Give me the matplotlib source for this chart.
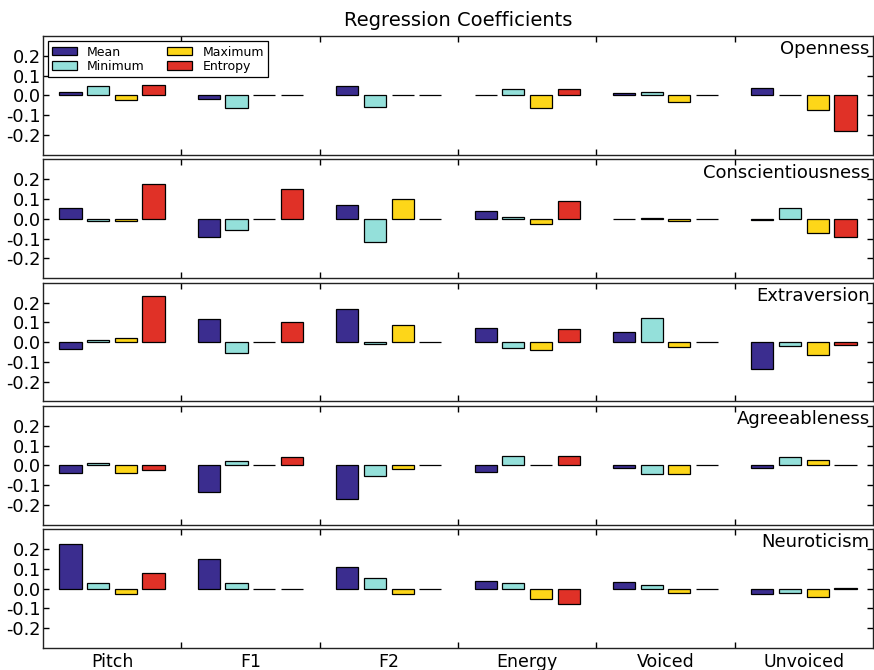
import numpy as np
import matplotlib
matplotlib.use("Agg")
import matplotlib.pyplot as plt

plt.rcParams['axes.unicode_minus'] = False

features = ['Pitch', 'F1', 'F2', 'Energy', 'Voiced', 'Unvoiced']
traits = ['Openness', 'Conscientiousness', 'Extraversion', 'Agreeableness', 'Neuroticism']
stats = ['Mean', 'Minimum', 'Maximum', 'Entropy']
colors = ['#3b2d8f', '#94e0da', '#fdd619', '#e03127']

# coefficient per trait, rows = stat (Mean, Minimum, Maximum, Entropy), cols = feature
openness = [
    [0.015, -0.02, 0.05, 0.003, 0.01, 0.04],
    [0.048, -0.062, -0.06, 0.035, 0.015, 0.003],
    [-0.022, 0.0, 0.003, -0.064, -0.035, -0.075],
    [0.052, 0.003, 0.0, 0.035, 0.0, -0.182],
]
conscientiousness = [
    [0.056, -0.093, 0.068, 0.039, -0.002, -0.008],
    [-0.01, -0.055, -0.116, 0.01, 0.004, 0.056],
    [-0.01, 0.0, 0.099, -0.026, -0.012, -0.073],
    [0.174, 0.15, 0.0, 0.089, 0.0, -0.094],
]
extraversion = [
    [-0.035, 0.116, 0.169, 0.073, 0.051, -0.138],
    [0.012, -0.053, -0.01, -0.032, 0.123, -0.02],
    [0.018, 0.0, 0.087, -0.039, -0.026, -0.068],
    [0.232, 0.1, 0.0, 0.068, 0.0, -0.014],
]
agreeableness = [
    [-0.037, -0.133, -0.171, -0.032, -0.012, -0.015],
    [0.01, 0.02, -0.056, 0.048, -0.043, 0.041],
    [-0.038, 0.0, -0.02, 0.002, -0.043, 0.026],
    [-0.024, 0.043, 0.0, 0.048, 0.0, 0.004],
]
neuroticism = [
    [0.226, 0.15, 0.109, 0.038, 0.031, -0.029],
    [0.026, 0.029, 0.056, 0.029, 0.02, -0.02],
    [-0.026, 0.0, -0.026, -0.053, -0.02, -0.043],
    [0.08, -0.003, 0.0, -0.079, 0.0, 0.004],
]
all_data = [openness, conscientiousness, extraversion, agreeableness, neuroticism]

fig, axes = plt.subplots(5, 1, sharex=True, figsize=(8.74, 6.7), dpi=100,
                         gridspec_kw={'hspace': 0.04})
fig.subplots_adjust(left=0.049, right=0.999, top=0.946, bottom=0.033)

x = np.arange(len(features))
offsets = [-0.3, -0.1, 0.1, 0.3]
for ax, trait, data in zip(axes, traits, all_data):
    for i, stat in enumerate(stats):
        ax.bar(x + offsets[i], data[i], width=0.16, color=colors[i],
               edgecolor='black', linewidth=0.9, label=stat)
    ax.set_xlim(-0.5, 5.5)
    ax.set_ylim(-0.3, 0.3)
    ax.set_yticks([-0.2, -0.1, 0.0, 0.1, 0.2])
    ax.set_yticklabels(['-0.2', '-0.1', '0.0', '0.1', '0.2'])
    ax.set_xticks(np.arange(0.5, 5.0, 1.0))
    ax.set_xticks(x, minor=True)
    ax.tick_params(which='major', direction='in', length=4, width=1,
                   top=True, right=True, labelsize=12.8, labelbottom=False)
    ax.tick_params(axis='y', pad=1.5)
    ax.tick_params(which='minor', length=0)
    for s in ax.spines.values():
        s.set_linewidth(1.0)
        s.set_color('#222222')
    ax.text(0.996, 0.965, trait, transform=ax.transAxes, ha='right', va='top',
            fontsize=13)

axes[-1].set_xticklabels(features, minor=True, fontsize=12.5)
axes[-1].tick_params(which='minor', labelbottom=True, pad=4)
axes[-1].tick_params(which='major', labelbottom=False)

axes[0].set_title('Regression Coefficients', fontsize=14, pad=7)
leg = axes[0].legend(loc='upper left', ncol=2, fontsize=9, fancybox=False,
                     edgecolor='black', framealpha=1, handlelength=2.0,
                     handleheight=0.65, handletextpad=0.8, columnspacing=1.8,
                     labelspacing=0.1, borderpad=0.35, borderaxespad=0.4)
leg.get_frame().set_linewidth(0.9)

fig.savefig('out.png', dpi=100)
